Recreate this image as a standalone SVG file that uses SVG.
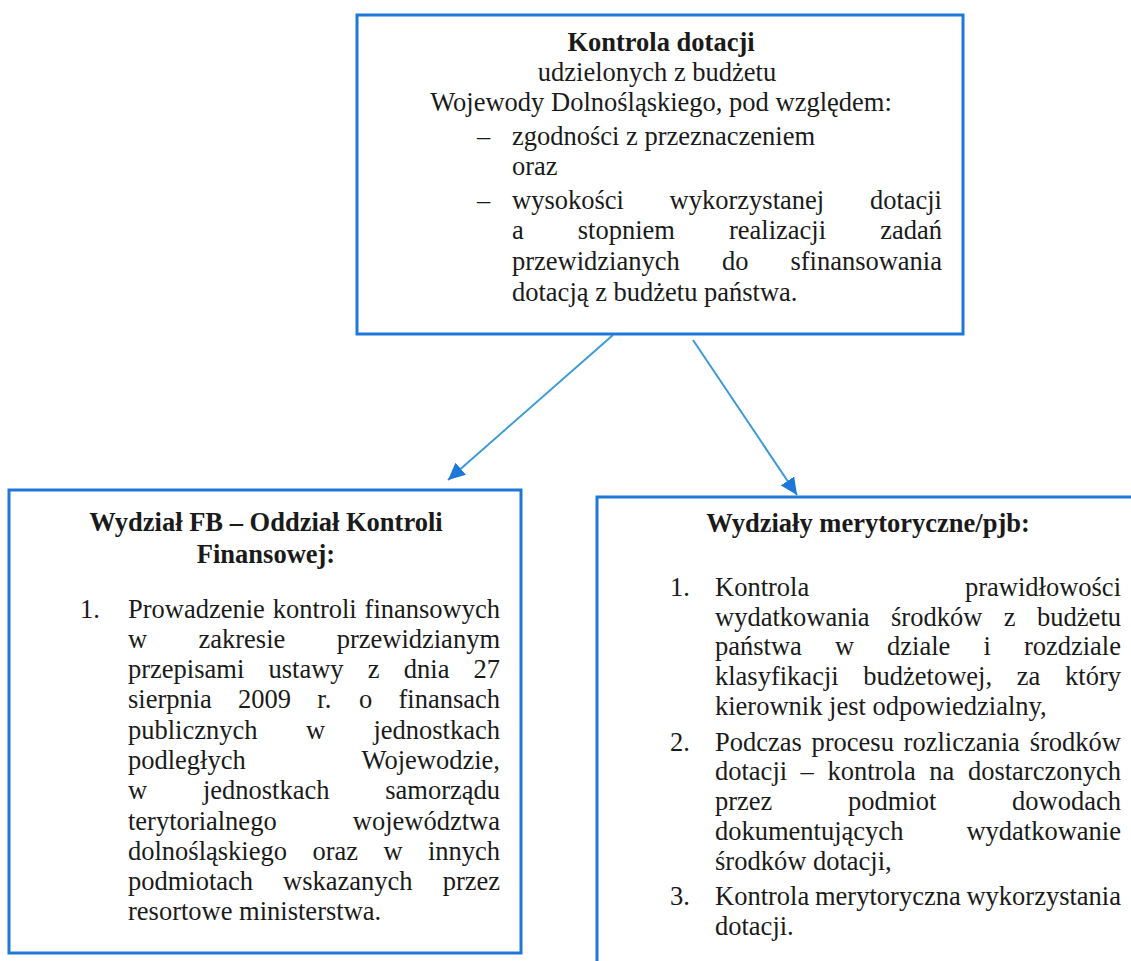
<svg xmlns="http://www.w3.org/2000/svg" width="1131" height="961" viewBox="0 0 1131 961">
<style>
  .box { fill: #ffffff; stroke: #1e78d8; stroke-width: 3; }
  .t { font-family: "Liberation Serif", "Times New Roman", serif; font-size: 26.5px; fill: #1a1a1a; }
  .b { font-weight: bold; }
  .c { text-anchor: middle; }
  .e { text-anchor: end; }
  .conn { fill: none; stroke: #3b9ad8; stroke-width: 2; }
</style>
<defs>
  <marker id="arrow" markerUnits="userSpaceOnUse" markerWidth="18" markerHeight="16" refX="17" refY="8" orient="auto">
    <path d="M0,0 L17,8 L0,16 Z" fill="#1e78d8"/>
  </marker>
</defs>
<rect width="1131" height="961" fill="#ffffff"/>

<g id="connectors">
  <line class="conn" x1="613" y1="335" x2="448" y2="480" marker-end="url(#arrow)"/>
  <line class="conn" x1="693" y1="340" x2="797" y2="495" marker-end="url(#arrow)"/>
</g>

<g id="node-top">
  <rect class="box" x="357" y="15" width="606" height="319"/>
  <text class="t b c" x="661" y="51">Kontrola dotacji</text>
  <text class="t c" x="657" y="81">udzielonych z budżetu</text>
  <text class="t c" x="661" y="111">Wojewody Dolnośląskiego, pod względem:</text>
  <text class="t" x="477" y="145">–</text>
  <text class="t" x="512" y="145">zgodności z przeznaczeniem</text>
  <text class="t" x="512" y="175">oraz</text>
  <text class="t" x="477" y="209">–</text>
  <text class="t" y="209"><tspan x="512">wysokości</tspan><tspan x="669.6">wykorzystanej</tspan></text>
  <text class="t e" x="942" y="209">dotacji</text>
  <text class="t" y="239"><tspan x="512">a</tspan><tspan x="577.8">stopniem</tspan><tspan x="729">realizacji</tspan></text>
  <text class="t e" x="942" y="239">zadań</text>
  <text class="t" y="270"><tspan x="512">przewidzianych</tspan><tspan x="721.9">do</tspan></text>
  <text class="t e" x="942" y="270">sfinansowania</text>
  <text class="t" x="512" y="301">dotacją z budżetu państwa.</text>
</g>

<g id="node-left">
  <rect class="box" x="9" y="490" width="512" height="463"/>
  <text class="t b c" x="266" y="531">Wydział FB – Oddział Kontroli</text>
  <text class="t b c" x="266" y="563">Finansowej:</text>
  <text class="t" x="80" y="618">1.</text>
  <text class="t" y="618"><tspan x="128">Prowadzenie</tspan><tspan x="272.8">kontroli</tspan></text>
  <text class="t e" x="500" y="618">finansowych</text>
  <text class="t" y="648"><tspan x="128">w</tspan><tspan x="198.5">zakresie</tspan></text>
  <text class="t e" x="500" y="648">przewidzianym</text>
  <text class="t" y="678"><tspan x="128">przepisami</tspan><tspan x="268.5">ustawy</tspan><tspan x="367.8">z</tspan><tspan x="403.8">dnia</tspan></text>
  <text class="t e" x="500" y="678">27</text>
  <text class="t" y="708"><tspan x="128">sierpnia</tspan><tspan x="238.1">2009</tspan><tspan x="317.3">r.</tspan><tspan x="358.9">o</tspan></text>
  <text class="t e" x="500" y="708">finansach</text>
  <text class="t" y="739"><tspan x="128">publicznych</tspan><tspan x="305.9">w</tspan></text>
  <text class="t e" x="500" y="739">jednostkach</text>
  <text class="t" x="128" y="769">podległych</text>
  <text class="t e" x="500" y="769">Wojewodzie,</text>
  <text class="t" y="799"><tspan x="128">w</tspan><tspan x="202.9">jednostkach</tspan></text>
  <text class="t e" x="500" y="799">samorządu</text>
  <text class="t" x="128" y="830">terytorialnego</text>
  <text class="t e" x="500" y="830">województwa</text>
  <text class="t" y="860"><tspan x="128">dolnośląskiego</tspan><tspan x="312.4">oraz</tspan><tspan x="383.4">w</tspan></text>
  <text class="t e" x="500" y="860">innych</text>
  <text class="t" y="890"><tspan x="128">podmiotach</tspan><tspan x="283.1">wskazanych</tspan></text>
  <text class="t e" x="500" y="890">przez</text>
  <text class="t" x="128" y="920">resortowe ministerstwa.</text>
</g>

<g id="node-right">
  <rect class="box" x="597" y="497" width="540" height="470"/>
  <text class="t b c" x="868" y="532">Wydziały merytoryczne/pjb:</text>
  <text class="t" x="670" y="596">1.</text>
  <text class="t" x="715" y="596">Kontrola</text>
  <text class="t e" x="1121" y="596">prawidłowości</text>
  <text class="t" y="626"><tspan x="715">wydatkowania</tspan><tspan x="891">środków</tspan><tspan x="1003.8">z</tspan></text>
  <text class="t e" x="1121" y="626">budżetu</text>
  <text class="t" y="655"><tspan x="715">państwa</tspan><tspan x="834.9">w</tspan><tspan x="887.1">dziale</tspan><tspan x="983.5">i</tspan></text>
  <text class="t e" x="1121" y="655">rozdziale</text>
  <text class="t" y="685"><tspan x="715">klasyfikacji</tspan><tspan x="863.3">budżetowej,</tspan><tspan x="1016.8">za</tspan></text>
  <text class="t e" x="1121" y="685">który</text>
  <text class="t" x="715" y="715">kierownik jest odpowiedzialny,</text>
  <text class="t" x="670" y="751">2.</text>
  <text class="t" y="751"><tspan x="715">Podczas</tspan><tspan x="811.5">procesu</tspan><tspan x="903.6">rozliczania</tspan></text>
  <text class="t e" x="1121" y="751">środków</text>
  <text class="t" y="780"><tspan x="715">dotacji</tspan><tspan x="800.6">–</tspan><tspan x="827.4">kontrola</tspan><tspan x="929.3">na</tspan></text>
  <text class="t e" x="1121" y="780">dostarczonych</text>
  <text class="t" y="810"><tspan x="715">przez</tspan><tspan x="848">podmiot</tspan></text>
  <text class="t e" x="1121" y="810">dowodach</text>
  <text class="t" x="715" y="840">dokumentujących</text>
  <text class="t e" x="1121" y="840">wydatkowanie</text>
  <text class="t" x="715" y="870">środków dotacji,</text>
  <text class="t" x="670" y="905">3.</text>
  <text class="t" y="905"><tspan x="715">Kontrola</tspan><tspan x="815">merytoryczna</tspan></text>
  <text class="t e" x="1121" y="905">wykorzystania</text>
  <text class="t" x="715" y="935">dotacji.</text>
</g>
</svg>
